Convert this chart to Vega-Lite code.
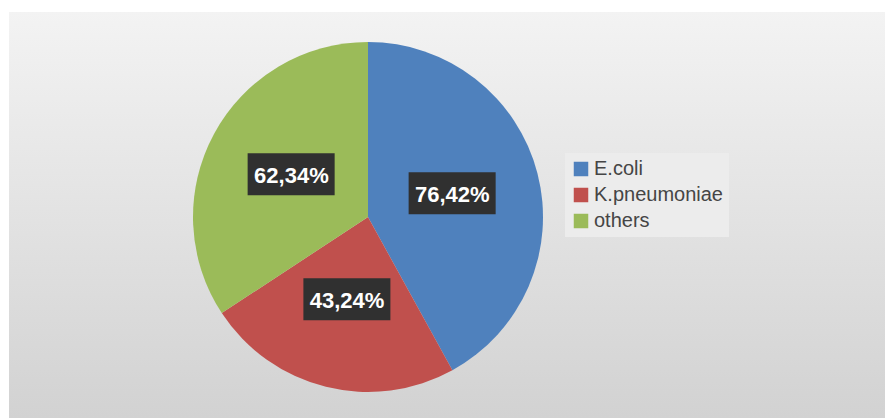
{
  "$schema": "https://vega.github.io/schema/vega-lite/v6.json",
  "width": 876,
  "height": 406,
  "autosize": "none",
  "padding": {"left": 9, "top": 12, "right": 0, "bottom": 0},
  "background": "white",
  "view": {
    "stroke": null,
    "fill": {"gradient": "linear", "x1": 0, "y1": 0, "x2": 0, "y2": 1,
      "stops": [{"offset": 0, "color": "#f3f3f3"}, {"offset": 1, "color": "#d2d2d2"}]}
  },
  "data": {"values": [
    {"organism": "E.coli", "value": 76.42, "label": "76,42%"},
    {"organism": "K.pneumoniae", "value": 43.24, "label": "43,24%"},
    {"organism": "others", "value": 62.34, "label": "62,34%"}
  ]},
  "encoding": {
    "theta": {"field": "value", "type": "quantitative", "stack": true},
    "order": {"field": "organism", "type": "ordinal"}
  },
  "layer": [
    {
      "mark": {"type": "arc", "x": 359, "y": 205, "outerRadius": 175},
      "encoding": {
        "color": {
          "field": "organism", "type": "nominal",
          "scale": {"domain": ["E.coli", "K.pneumoniae", "others"], "range": ["#4f81bd", "#c0504d", "#9bbb59"]},
          "legend": {
            "title": null, "orient": "none", "legendX": 556, "legendY": 141,
            "fillColor": "#ececec", "padding": 6,
            "symbolType": "square", "symbolSize": 210, "symbolStrokeWidth": 0,
            "labelFont": "Liberation Sans", "labelFontSize": 20, "labelColor": "#454545",
            "labelOffset": 3, "rowPadding": 6
          }
        }
      }
    },
    {
      "mark": {"type": "text", "x": 359, "y": 205, "radius": 87, "font": "DejaVu Sans", "fontSize": 114, "dy": -6, "color": "#303030", "baseline": "middle", "align": "center"},
      "encoding": {"text": {"value": "▬"}}
    },
    {
      "mark": {"type": "text", "x": 359, "y": 205, "radius": 87, "font": "Liberation Sans", "fontWeight": "bold", "fontSize": 22, "color": "white", "baseline": "middle", "align": "center"},
      "encoding": {"text": {"field": "label", "type": "nominal"}}
    }
  ]
}
